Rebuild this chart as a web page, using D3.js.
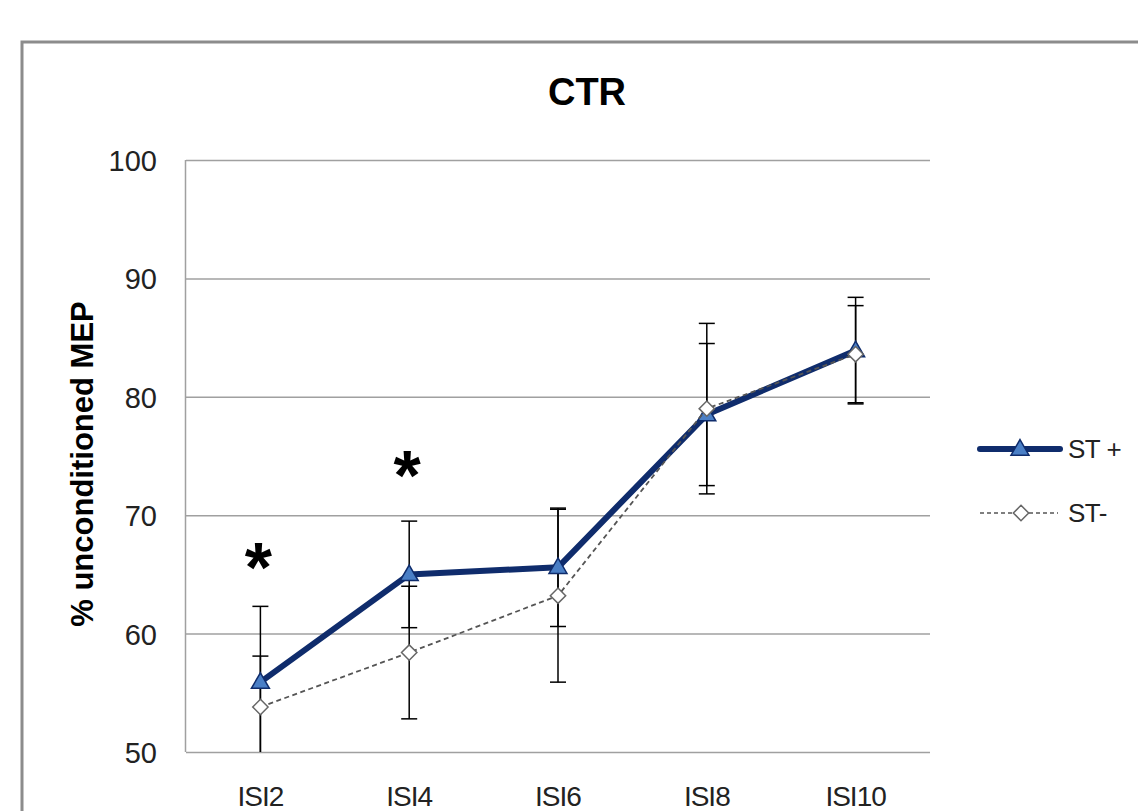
<!DOCTYPE html>
<html>
<head>
<meta charset="utf-8">
<script src="https://cdn.jsdelivr.net/npm/d3@7"></script>
<style>
  html, body { margin: 0; padding: 0; background: #ffffff; }
  svg { display: block; }
</style>
</head>
<body>
<svg id="chart" width="1138" height="811"></svg>
<script>
// ---- data ----
const title = "CTR";
const yLabel = "% unconditioned MEP";
const categories = ["ISI2", "ISI4", "ISI6", "ISI8", "ISI10"];
const seriesNames = ["ST +", "ST-"];
const stPlus = [55.9, 65.0, 65.6, 78.5, 83.9];
const stPlusErr = [6.4, 4.5, 5.0, 6.0, 4.5];
const stMinus = [53.8, 58.4, 63.2, 79.0, 83.6];
const stMinusErr = [4.3, 5.6, 7.3, 7.2, 4.1];
const yTicks = [50, 60, 70, 80, 90, 100];
const sigCategories = ["ISI2", "ISI4"];
const sigValues = [66.5, 74.2];

// ---- layout ----
const svg = d3.select("#chart");
const W = 1138, H = 811;
const plot = { left: 186, right: 930, top: 160, bottom: 752 };
const navy = "#0f2c6c";
const triFill = "#4a7fc6";
const grayLine = "#555555";
const tickFont = "'Liberation Sans', Arial, sans-serif";
const boldFont = "'Liberation Sans', Arial, sans-serif";

svg.append("rect").attr("width", W).attr("height", H).attr("fill", "#fff");
// outer chart border (extends past the window)
svg.append("rect")
  .attr("x", 22).attr("y", 42).attr("width", 1200).attr("height", 900)
  .attr("fill", "none").attr("stroke", "#8c8c8c").attr("stroke-width", 3);

const x = d3.scaleBand().domain(categories).range([plot.left, plot.right]).padding(0);
const cx = c => x(c) + x.bandwidth() / 2;
const y = d3.scaleLinear().domain([50, 100]).range([plot.bottom, plot.top]);

// gridlines
const grid = svg.append("g").attr("transform", `translate(${plot.left},0)`)
  .call(d3.axisLeft(y).tickValues(yTicks).tickSize(-(plot.right - plot.left)).tickFormat(""));
grid.select(".domain").remove();
grid.selectAll(".tick line").attr("stroke", "#a0a0a0").attr("stroke-width", 1.5);

// left axis line
svg.append("line").attr("x1", plot.left - 0.5).attr("x2", plot.left - 0.5)
  .attr("y1", plot.top).attr("y2", plot.bottom)
  .attr("stroke", "#a0a0a0").attr("stroke-width", 1.5);

// y tick labels
const yAxis = svg.append("g").attr("transform", `translate(${plot.left - 29},0)`)
  .call(d3.axisLeft(y).tickValues(yTicks).tickSize(0).tickPadding(0).tickFormat(d3.format("d")));
yAxis.select(".domain").remove();
yAxis.selectAll("text").attr("font-family", tickFont).attr("font-size", 29)
  .attr("fill", "#222").attr("dy", "0.36em");

// x tick labels
const xAxis = svg.append("g").attr("transform", `translate(0,${plot.bottom})`)
  .call(d3.axisBottom(x).tickSize(0).tickPadding(0));
xAxis.select(".domain").remove();
xAxis.selectAll("text").attr("font-family", tickFont).attr("font-size", 28)
  .attr("letter-spacing", -1)
  .attr("fill", "#222").attr("dy", 0).attr("y", 54);

// title
svg.append("text").attr("x", 587).attr("y", 105).attr("text-anchor", "middle")
  .attr("font-family", boldFont).attr("font-weight", "bold").attr("font-size", 38)
  .attr("fill", "#000").text(title);

// y label
svg.append("text").attr("transform", `translate(93,464) rotate(-90)`)
  .attr("text-anchor", "middle").attr("font-family", boldFont)
  .attr("font-weight", "bold").attr("font-size", 31).attr("fill", "#000").text(yLabel);

// clip for plot area
svg.append("clipPath").attr("id", "plotclip").append("rect")
  .attr("x", plot.left - 20).attr("y", plot.top - 20)
  .attr("width", plot.right - plot.left + 40).attr("height", plot.bottom - plot.top + 20);

const pg = svg.append("g").attr("clip-path", "url(#plotclip)");

function errorBars(vals, errs) {
  const g = pg.append("g").attr("stroke", "#000").attr("stroke-width", 1.5);
  categories.forEach((c, i) => {
    const x0 = cx(c);
    const y1 = y(vals[i] + errs[i]), y2 = y(vals[i] - errs[i]);
    g.append("line").attr("x1", x0).attr("x2", x0).attr("y1", y1).attr("y2", y2);
    g.append("line").attr("x1", x0 - 8).attr("x2", x0 + 8).attr("y1", y1).attr("y2", y1);
    g.append("line").attr("x1", x0 - 8).attr("x2", x0 + 8).attr("y1", y2).attr("y2", y2);
  });
}
errorBars(stPlus, stPlusErr);
errorBars(stMinus, stMinusErr);

const line = d3.line().x((d, i) => cx(categories[i])).y(d => y(d));

// ST+ series
pg.append("path").datum(stPlus).attr("d", line).attr("fill", "none")
  .attr("stroke", navy).attr("stroke-width", 6).attr("stroke-linejoin", "round");
const triSym = d3.symbol().type(d3.symbolTriangle).size(140);
pg.selectAll(".tri").data(stPlus).join("path")
  .attr("transform", (d, i) => `translate(${cx(categories[i])},${y(d) + 1})`)
  .attr("d", triSym).attr("fill", triFill).attr("stroke", navy).attr("stroke-width", 1.5);

// ST- series
pg.append("path").datum(stMinus).attr("d", line).attr("fill", "none")
  .attr("stroke", grayLine).attr("stroke-width", 1.8).attr("stroke-dasharray", "5,3.5");
const diaSym = d3.symbol().type(d3.symbolDiamond2).size(150);
pg.selectAll(".dia").data(stMinus).join("path")
  .attr("transform", (d, i) => `translate(${cx(categories[i])},${y(d)})`)
  .attr("d", diaSym).attr("fill", "#fff").attr("stroke", "#666").attr("stroke-width", 1.5);

// significance markers
sigCategories.forEach((c, i) => {
  svg.append("text").attr("x", cx(c) - 2).attr("y", y(sigValues[i]) + 35)
    .attr("text-anchor", "middle").attr("font-family", boldFont).attr("font-weight", "bold")
    .attr("font-size", 70).attr("fill", "#000").text("*");
});

// legend
const lg = svg.append("g");
const legY = [449, 513];
lg.append("line").attr("x1", 980).attr("x2", 1060).attr("y1", legY[0]).attr("y2", legY[0])
  .attr("stroke", navy).attr("stroke-width", 6).attr("stroke-linecap", "round");
lg.append("path").attr("transform", `translate(1020,${legY[0] + 1})`).attr("d", triSym)
  .attr("fill", triFill).attr("stroke", navy).attr("stroke-width", 1.5);
lg.append("line").attr("x1", 980).attr("x2", 1058).attr("y1", legY[1]).attr("y2", legY[1])
  .attr("stroke", grayLine).attr("stroke-width", 1.5).attr("stroke-dasharray", "4,3");
lg.append("path").attr("transform", `translate(1021,${legY[1]})`).attr("d", diaSym)
  .attr("fill", "#fff").attr("stroke", "#666").attr("stroke-width", 1.5);
seriesNames.forEach((n, i) => {
  lg.append("text").attr("x", 1068).attr("y", legY[i]).attr("dy", "0.36em")
    .attr("font-family", tickFont).attr("font-size", 26).attr("letter-spacing", -0.5)
    .attr("fill", "#222").text(n);
});
</script>
</body>
</html>
